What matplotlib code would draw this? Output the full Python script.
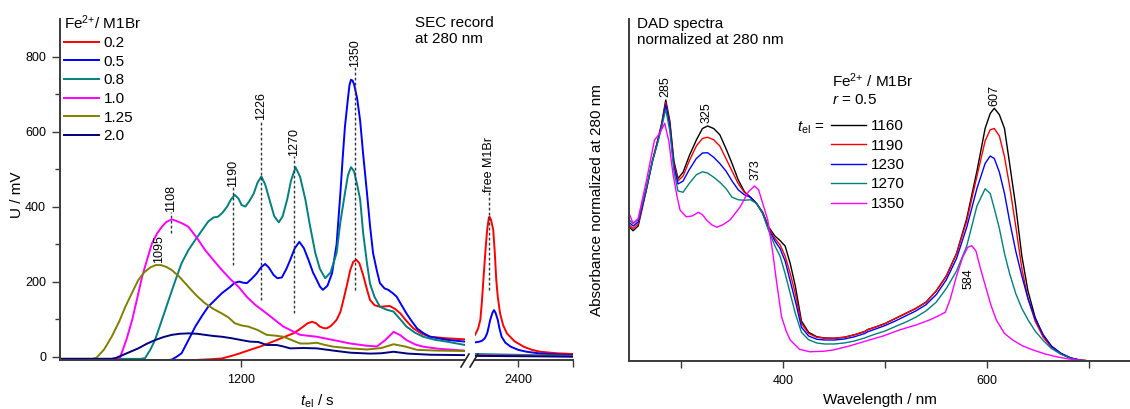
import matplotlib
matplotlib.use('Agg')
import matplotlib.pyplot as plt
from matplotlib.lines import Line2D
from matplotlib.ticker import FixedLocator

plt.rcParams['font.family'] = ['Liberation Sans', 'DejaVu Sans']
plt.rcParams['mathtext.fontset'] = 'custom'
plt.rcParams['mathtext.rm'] = 'Liberation Sans'
plt.rcParams['mathtext.it'] = 'Liberation Sans:italic'
plt.rcParams['mathtext.bf'] = 'Liberation Sans:bold'

# ---- SEC record (left), elution time in s, signal in mV ----
ratio_labels = ['0.2', '0.5', '0.8', '1.0', '1.25', '2.0']
ratio_colors = ['#ff0000', '#0000ff', '#008080', '#ff00ff', '#808000', '#000080']

t_02 = [960, 1140, 1160, 1175, 1188, 1199, 1212, 1225, 1236, 1247, 1258, 1269, 1276, 1282, 1288,
        1294, 1299, 1304, 1309, 1313, 1318, 1322, 1326, 1331, 1335, 1340, 1344, 1348, 1352, 1356,
        1361, 1366, 1370, 1376, 1383, 1390, 1396, 1403, 1410, 1418, 1427, 1438, 1449, 1470, 1495]
u_02 = [-8, -8, -6, -4, 3, 10, 19, 27.5, 36, 45, 54, 63, 72, 81, 90,
        94, 90, 81, 77, 76.5, 82, 90, 99, 120, 152, 195, 232, 254, 259, 250,
        218, 180, 152, 138, 134, 135, 136, 128, 116, 96, 76.5, 62, 54, 50, 47]

t_05 = [960, 1105, 1109, 1115, 1122, 1131, 1140, 1149, 1157, 1166, 1175, 1186, 1192, 1198, 1203,
        1208, 1214, 1221, 1227, 1232, 1237, 1243, 1248, 1254, 1260, 1265, 1271, 1277, 1283, 1289,
        1295, 1300, 1304, 1308, 1314, 1320, 1326, 1331, 1334, 1337, 1341, 1343, 1345, 1347, 1349,
        1353, 1357, 1361, 1366, 1370, 1374, 1379, 1383, 1389, 1394, 1400, 1405, 1411, 1418, 1425,
        1432, 1440, 1449, 1470, 1495]
u_05 = [-8, -8, -7, 0, 10, 45, 81, 110, 134, 152, 170, 187, 198, 201, 198,
        197, 208, 223, 240, 248, 238, 219, 210, 212, 235, 259, 290, 307, 290, 259,
        225, 205, 188, 179, 190, 223, 300, 437, 530, 614, 690, 725, 739, 737, 727,
        690, 630, 540, 437, 350, 277, 230, 197, 183, 179, 170, 161, 140, 116, 95,
        76, 64, 54, 46, 41]

t_08 = [960, 1068, 1074, 1081, 1087, 1096, 1105, 1114, 1122, 1131, 1140, 1149, 1157, 1164, 1170,
        1176, 1182, 1187, 1192, 1197, 1201, 1206, 1211, 1217, 1222, 1227, 1232, 1239, 1244, 1250,
        1255, 1261, 1266, 1272, 1278, 1285, 1291, 1298, 1304, 1311, 1318, 1326, 1331, 1337, 1341,
        1345, 1349, 1353, 1357, 1361, 1366, 1370, 1376, 1383, 1392, 1401, 1410, 1418, 1429, 1440,
        1455, 1471, 1495]
u_08 = [-5, -5, -3, 20, 45, 98, 152, 205, 250, 285, 312, 338, 361, 372, 374,
        385, 401, 420, 432, 422, 405, 401, 415, 436, 465, 481, 460, 410, 375, 359,
        375, 420, 470, 506, 480, 419, 350, 277, 235, 210, 225, 277, 360, 437, 485,
        506, 495, 460, 420, 330, 250, 195, 160, 134, 126, 121, 100, 81, 65, 54,
        46, 41, 32]

t_10 = [960, 1030, 1041, 1050, 1057, 1064, 1070, 1077, 1083, 1090, 1096, 1102, 1109, 1116, 1124,
        1131, 1142, 1153, 1164, 1175, 1186, 1197, 1208, 1219, 1234, 1256, 1278, 1300, 1322, 1344,
        1366, 1379, 1390, 1401, 1410, 1418, 1430, 1440, 1460, 1495]
u_10 = [-5, -5, -2, 50, 99, 160, 214, 262, 303, 330, 347, 360, 367, 362, 355,
        347, 318, 285, 258, 232, 208, 187, 160, 139, 116, 81, 59, 54, 45, 36,
        30, 28, 45, 67, 58, 45, 33, 27.5, 22, 17]

t_125 = [960, 1005, 1010, 1020, 1030, 1040, 1048, 1057, 1065, 1073, 1081, 1088, 1095, 1102, 1109,
         1120, 1131, 1142, 1153, 1164, 1175, 1184, 1192, 1201, 1210, 1222, 1234, 1245, 1256, 1267,
         1278, 1289, 1300, 1311, 1322, 1344, 1366, 1385, 1401, 1416, 1432, 1460, 1495]
u_125 = [-5, -5, -2, 20, 54, 95, 134, 172, 205, 226, 239, 245, 245, 240, 232,
         212, 187, 163, 143, 128, 116, 105, 90, 84, 81, 72, 59, 57, 54, 45,
         36, 36, 38, 32, 27.5, 23, 20, 24, 34, 28, 19, 17, 16]

t_20 = [960, 1030, 1035, 1050, 1065, 1076, 1087, 1098, 1109, 1120, 1131, 1142, 1153, 1164, 1175,
        1188, 1201, 1212, 1223, 1234, 1247, 1256, 1265, 1282, 1300, 1322, 1344, 1370, 1385, 1401,
        1420, 1450, 1495]
u_20 = [-5, -5, -3, 10, 23, 35, 45, 53, 59, 62, 63, 62, 59, 56, 54,
        50, 45, 41, 40, 32, 32, 28, 23, 24, 23, 17, 11.5, 9, 10, 14,
        9, 6, 5]

# after the axis break (free M1Br region)
t2_02 = [2343, 2347, 2350, 2352, 2354, 2357, 2359, 2361, 2362, 2364, 2367, 2369, 2371, 2373, 2376,
         2380, 2385, 2395, 2407, 2418, 2429, 2450, 2472]
u2_02 = [59, 75, 99, 145, 205, 290, 339, 368, 374, 366, 339, 280, 205, 160, 116,
         85, 63, 42, 27.5, 19, 14, 10, 8]
t2_05 = [2343, 2347, 2352, 2356, 2359, 2361, 2363, 2366, 2368, 2370, 2373, 2375, 2378, 2383, 2390,
         2400, 2411, 2430, 2472]
u2_05 = [39, 40, 43, 50, 63, 80, 99, 118, 125, 118, 99, 78, 54, 38, 27.5,
         19, 14, 9, 5]
t2_flat = [2343, 2472]
u2_08 = [8, 3]
u2_10 = [5, 2]
u2_125 = [4, 2]
u2_20 = [3, 1]

# peak marks: (label time, dashed line from, dashed line to)
sec_marks = [(1108, 330, 387), (1190, 245, 454), (1226, 152, 632), (1270, 116, 535), (1350, 179, 773)]

# ---- DAD spectra (right), wavelength in nm, normalized absorbance ----
el_labels = ['1160', '1190', '1230', '1270', '1350']
el_colors = ['#000000', '#ff0000', '#0000ff', '#008080', '#ff00ff']

wl = [249, 253, 258, 266, 272, 277, 281, 285, 289, 293, 297, 302, 308, 315, 321,
      326, 332, 338, 344, 350, 356, 362, 368, 374, 380, 386, 392, 397, 402, 407,
      412, 418, 425, 433, 441, 450, 460, 470, 480, 483, 490, 500, 510, 520, 530,
      540, 550, 560, 570, 580, 590, 598, 603, 607, 612, 617, 622, 628, 634, 640,
      647, 655, 663, 672, 682, 692, 702]
a_1160 = [0.537, 0.521, 0.54, 0.684, 0.80, 0.88, 0.95, 1.044, 0.96, 0.80, 0.73, 0.755, 0.82, 0.884, 0.93,
          0.94, 0.93, 0.905, 0.85, 0.79, 0.725, 0.678, 0.655, 0.63, 0.595, 0.535, 0.50, 0.482, 0.46, 0.39,
          0.30, 0.16, 0.115, 0.097, 0.092, 0.091, 0.095, 0.105, 0.118, 0.126, 0.135, 0.15, 0.17, 0.19, 0.21,
          0.235, 0.28, 0.34, 0.43, 0.57, 0.76, 0.93, 0.99, 1.011, 0.985, 0.93, 0.79, 0.62, 0.42, 0.28,
          0.175, 0.10, 0.058, 0.03, 0.012, 0.003, 0.0]
a_1190 = [0.545, 0.53, 0.548, 0.686, 0.80, 0.88, 0.945, 1.033, 0.95, 0.79, 0.72, 0.74, 0.80, 0.86, 0.89,
          0.895, 0.885, 0.86, 0.81, 0.76, 0.71, 0.675, 0.655, 0.63, 0.593, 0.53, 0.49, 0.465, 0.42, 0.35,
          0.27, 0.15, 0.11, 0.095, 0.091, 0.091, 0.095, 0.105, 0.118, 0.125, 0.135, 0.15, 0.17, 0.19, 0.21,
          0.235, 0.28, 0.34, 0.43, 0.56, 0.74, 0.88, 0.925, 0.93, 0.90, 0.817, 0.70, 0.54, 0.37, 0.25,
          0.16, 0.095, 0.055, 0.028, 0.011, 0.003, 0.0]
a_1230 = [0.555, 0.54, 0.556, 0.69, 0.80, 0.875, 0.94, 1.024, 0.94, 0.78, 0.708, 0.72, 0.765, 0.81, 0.832,
          0.833, 0.815, 0.79, 0.76, 0.72, 0.685, 0.665, 0.655, 0.63, 0.59, 0.525, 0.48, 0.45, 0.40, 0.32,
          0.24, 0.135, 0.10, 0.087, 0.084, 0.084, 0.088, 0.097, 0.11, 0.117, 0.127, 0.142, 0.16, 0.18, 0.20,
          0.225, 0.265, 0.325, 0.41, 0.535, 0.69, 0.79, 0.82, 0.81, 0.755, 0.67, 0.56, 0.44, 0.34, 0.25,
          0.17, 0.105, 0.06, 0.032, 0.012, 0.003, 0.0]
a_1270 = [0.565, 0.55, 0.565, 0.695, 0.80, 0.87, 0.935, 1.007, 0.92, 0.76, 0.68, 0.675, 0.71, 0.745, 0.757,
          0.752, 0.735, 0.715, 0.69, 0.655, 0.645, 0.643, 0.645, 0.63, 0.59, 0.52, 0.46, 0.42, 0.35, 0.27,
          0.19, 0.115, 0.085, 0.072, 0.068, 0.068, 0.072, 0.08, 0.092, 0.097, 0.107, 0.12, 0.138, 0.155, 0.175,
          0.20, 0.235, 0.29, 0.36, 0.46, 0.62, 0.689, 0.67, 0.61, 0.53, 0.43, 0.35, 0.27, 0.21, 0.165,
          0.12, 0.082, 0.05, 0.028, 0.01, 0.002, 0.0]
wl_1350 = [249, 253, 258, 266, 274, 279, 284, 288, 292, 296, 299, 305, 311, 317, 321,
           325, 330, 335, 341, 348, 353, 358, 366, 372, 376, 380, 385, 390, 393.5, 398.5,
           403, 407, 416, 426, 440, 449, 465, 482, 498, 514, 531, 544, 552, 559, 564,
           570, 576, 581, 585, 589, 593, 599, 604, 609, 617, 625, 635, 645, 657, 668,
           680, 691, 702]
a_1350 = [0.591, 0.551, 0.57, 0.72, 0.884, 0.91, 0.951, 0.88, 0.751, 0.66, 0.604, 0.577, 0.58, 0.595, 0.585,
          0.564, 0.545, 0.535, 0.545, 0.564, 0.59, 0.617, 0.677, 0.70, 0.685, 0.631, 0.564, 0.431, 0.32, 0.177,
          0.12, 0.084, 0.047, 0.037, 0.039, 0.044, 0.06, 0.081, 0.10, 0.124, 0.145, 0.165, 0.18, 0.195, 0.25,
          0.34, 0.415, 0.455, 0.461, 0.44, 0.377, 0.29, 0.22, 0.164, 0.11, 0.084, 0.06, 0.044, 0.028, 0.017,
          0.008, 0.003, 0.0]

dad_marks = [(285, 1.056), (325, 0.952), (373, 0.724), (607, 1.02)]

# ---- layout (pixel boxes in a 1130 x 409 canvas) ----
W, H = 1130, 409
fig = plt.figure(figsize=(W / 100, H / 100), dpi=100)


def fbox(x0, y0, x1, y1):
    return [x0 / W, 1 - y1 / H, (x1 - x0) / W, (y1 - y0) / H]


ax1 = fig.add_axes(fbox(60, 19, 465, 360))
ax2 = fig.add_axes(fbox(475, 19, 573, 360))
ax3 = fig.add_axes(fbox(629, 19, 1130, 361))

spine_col = '#3a3a3a'
for ax in (ax1, ax2, ax3):
    for s in ('top', 'right'):
        ax.spines[s].set_visible(False)
    for s in ('left', 'bottom'):
        ax.spines[s].set_color(spine_col)
        ax.spines[s].set_linewidth(1.4)
    ax.tick_params(which='both', direction='out', color=spine_col, width=1.0, labelsize=9)
    ax.tick_params(axis='x', which='both', length=5, pad=5)
    ax.patch.set_alpha(0)
ax2.spines['left'].set_visible(False)

# SEC curves
sec_t = [t_02, t_05, t_08, t_10, t_125, t_20]
sec_u = [u_02, u_05, u_08, u_10, u_125, u_20]
sec_u2 = [u2_02, u2_05, u2_08, u2_10, u2_125, u2_20]
sec_t2 = [t2_02, t2_05, t2_flat, t2_flat, t2_flat, t2_flat]
for i in range(len(ratio_labels)):
    ax1.plot(sec_t[i], sec_u[i], color=ratio_colors[i], lw=1.4, label=ratio_labels[i])
    ax2.plot(sec_t2[i], sec_u2[i], color=ratio_colors[i], lw=1.4)

ax1.set_xlim(962, 1495)
ax2.set_xlim(2343, 2472)
ax1.set_ylim(-8, 901)
ax2.set_ylim(-8, 901)
ax1.set_xticks([1200])
ax2.set_xticks([2400])
ax2.xaxis.set_minor_locator(FixedLocator([2472]))
ax2.set_yticks([])
ax1.set_yticks([0, 200, 400, 600, 800])
ax1.yaxis.set_minor_locator(FixedLocator([100, 300, 500, 700]))
ax1.tick_params(axis='y', which='major', length=6, pad=4)
ax1.tick_params(axis='y', which='minor', length=3.5)

for t, y0, y1 in sec_marks:
    ax1.plot([t, t], [y0, y1], ls=(0, (2, 1.6)), color='#333333', lw=1.0)
    ax1.text(t, y1, str(t), rotation=90, ha='center', va='bottom', fontsize=9)
ax1.text(1093, 250, '1095', rotation=90, ha='center', va='bottom', fontsize=9)
ax2.plot([2362, 2362], [179, 440], ls=(0, (2, 1.6)), color='#333333', lw=1.0)
ax2.text(2362, 440, 'free M1Br', rotation=90, ha='center', va='bottom', fontsize=9)

# axis break marks
for x0 in (461, 470):
    fig.add_artist(Line2D([x0 / W, (x0 + 8) / W], [1 - 367 / H, 1 - 354 / H],
                          color='#222222', lw=1.2))

ax1.legend(loc='upper left', bbox_to_anchor=(64 / W, 1 - 13 / H), bbox_transform=fig.transFigure,
           frameon=False, fontsize=11, title='Fe$^{2{+}}$/ M1Br', title_fontsize=11,
           alignment='left', handlelength=2.3, handletextpad=0.3, labelspacing=0.3,
           borderpad=0, borderaxespad=0)

fig.text(17 / W, 1 - 195 / H, 'U / mV', rotation=90, ha='center', va='center', fontsize=11)
fig.text(317 / W, 1 - 401 / H, '$t_{\\mathrm{el}}$ / s', ha='center', va='center', fontsize=11)
fig.text(415 / W, 1 - 16 / H, 'SEC record\nat 280 nm', ha='left', va='top', fontsize=11)

# DAD spectra
dad_wl = [wl, wl, wl, wl, wl_1350]
dad_a = [a_1160, a_1190, a_1230, a_1270, a_1350]
for i in range(len(el_labels)):
    ax3.plot(dad_wl[i], dad_a[i], color=el_colors[i], lw=1.0, label=el_labels[i])

ax3.set_xlim(249, 740)
ax3.set_ylim(0, 1.368)
ax3.set_yticks([])
ax3.set_xticks([400, 600])
ax3.xaxis.set_minor_locator(FixedLocator([300, 500, 700]))

for w, y in dad_marks:
    ax3.text(w, y, str(w), rotation=90, ha='center', va='bottom', fontsize=9)
ax3.text(582, 0.372, '584', rotation=90, ha='center', va='top', fontsize=9)

ax3.legend(loc='upper left', bbox_to_anchor=(831 / W, 1 - 119 / H), bbox_transform=fig.transFigure,
           frameon=False, fontsize=11, handlelength=2.3, handletextpad=0.3, labelspacing=0.36,
           borderpad=0, borderaxespad=0)
fig.text(832 / W, 1 - 81 / H, 'Fe$^{2{+}}$ / M1Br', ha='left', va='center', fontsize=11)
fig.text(832 / W, 1 - 100 / H, '$r$ = 0.5', ha='left', va='center', fontsize=11)
fig.text(797 / W, 1 - 128 / H, '$t_{\\mathrm{el}}$ =', ha='left', va='center', fontsize=11)

fig.text(637 / W, 1 - 17 / H, 'DAD spectra\nnormalized at 280 nm', ha='left', va='top', fontsize=11)
fig.text(597 / W, 1 - 200 / H, 'Absorbance normalized at 280 nm', rotation=90,
         ha='center', va='center', fontsize=11)
fig.text(880 / W, 1 - 400 / H, 'Wavelength / nm', ha='center', va='center', fontsize=11)

fig.savefig('out.png', dpi=100)
